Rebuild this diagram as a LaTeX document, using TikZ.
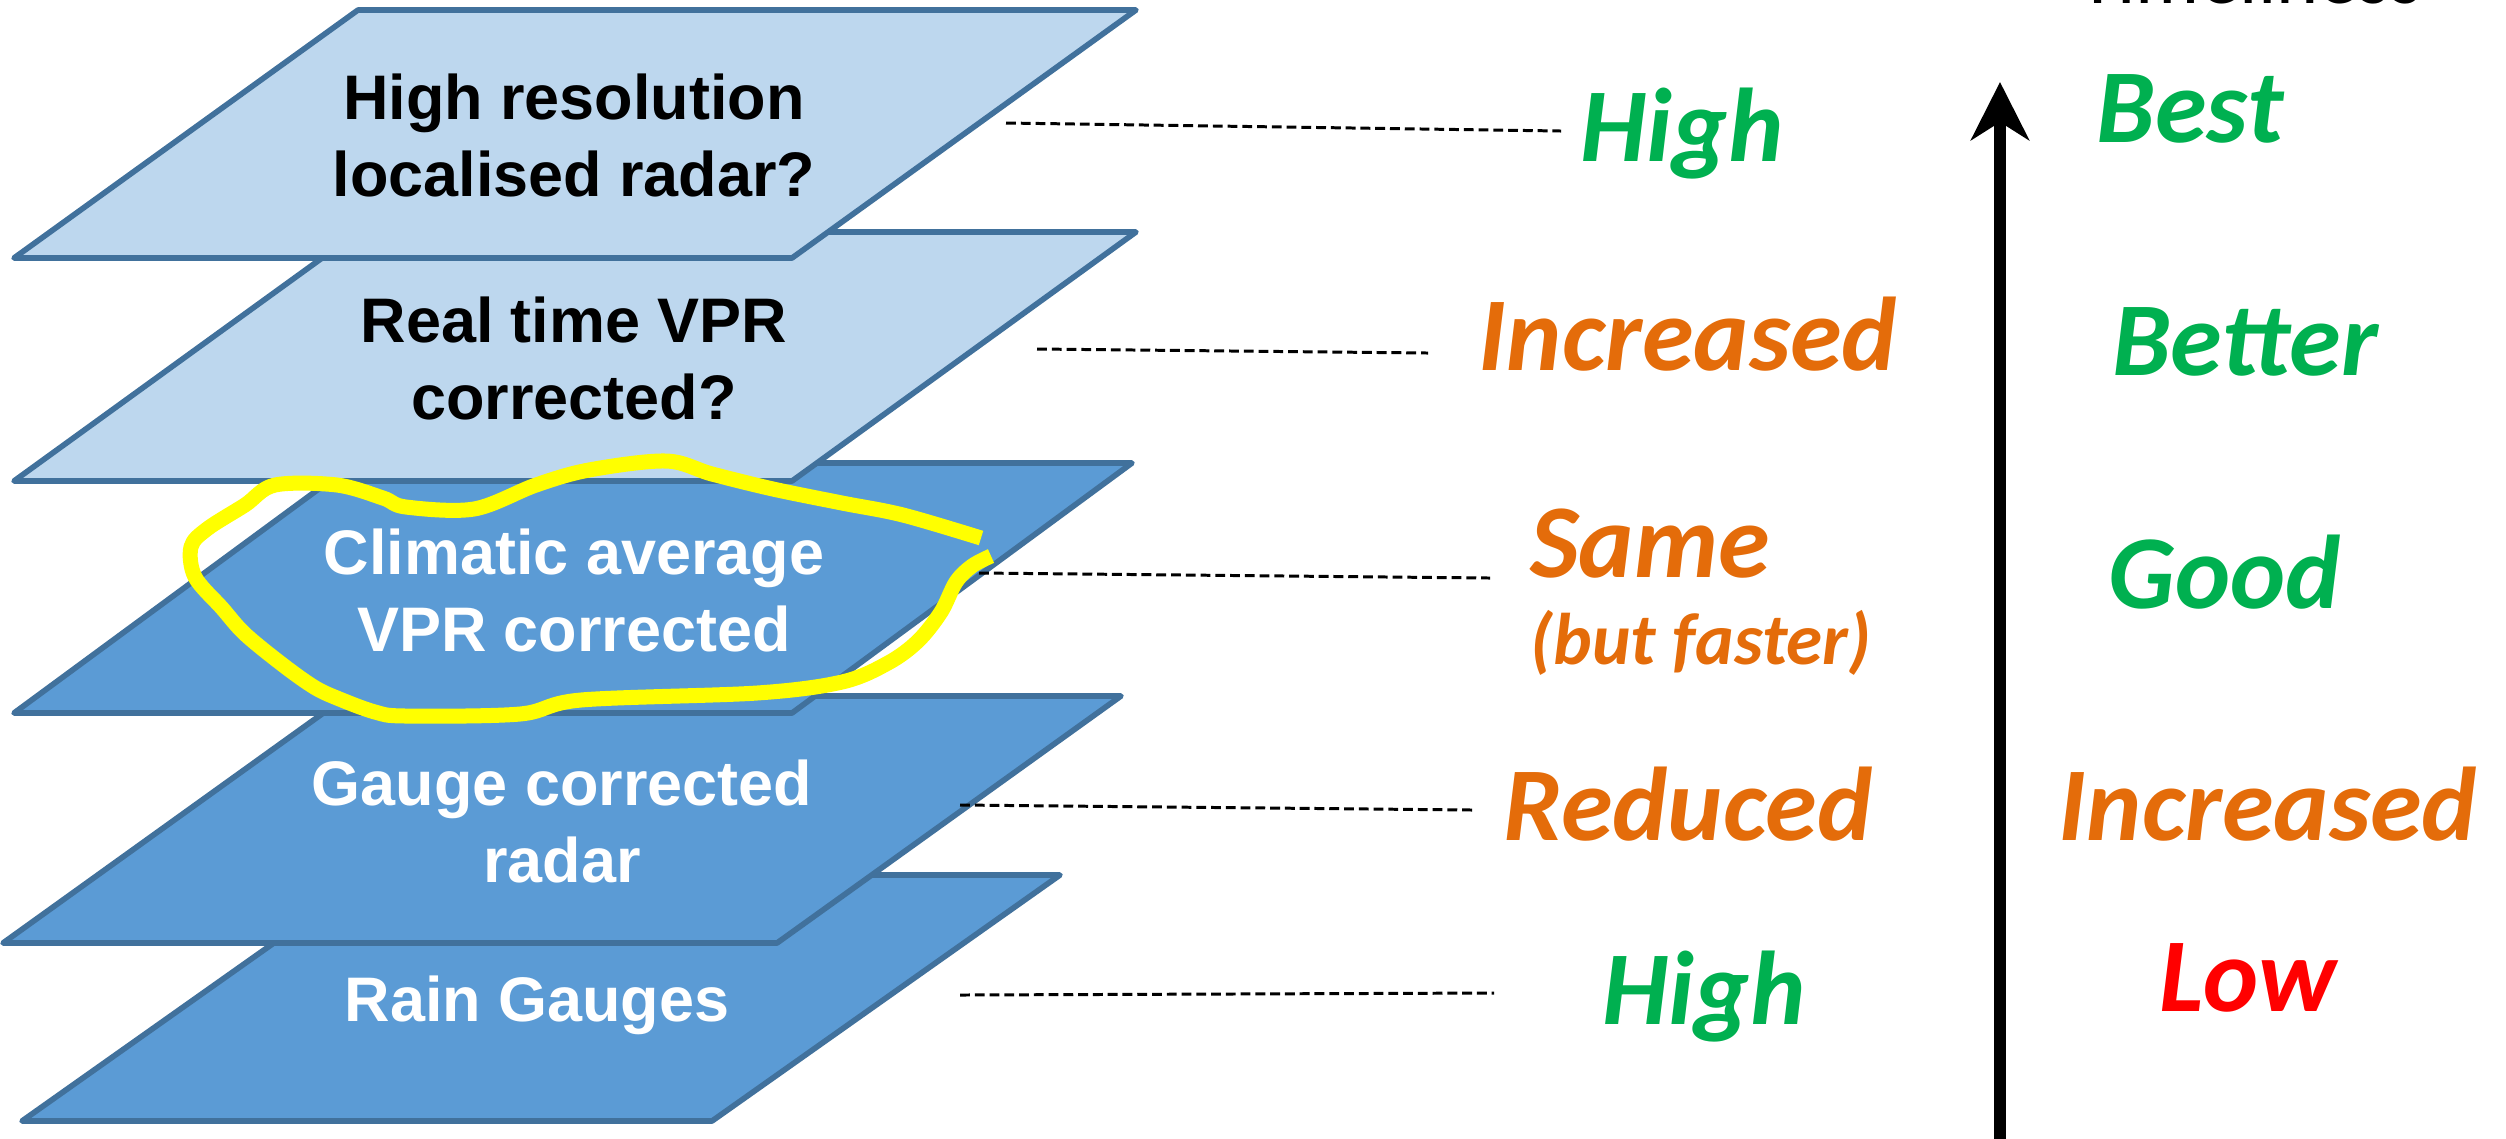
\documentclass[tikz,border=0pt]{standalone}
\usepackage{fontspec}
\setmainfont{Liberation Sans}
\newfontfamily\calib{Carlito}
\usetikzlibrary{arrows.meta}
\usepackage{xcolor}
\definecolor{layerpale}{HTML}{BDD7EE}
\definecolor{layerdeep}{HTML}{5B9BD5}
\definecolor{layeredge}{HTML}{41719C}
\definecolor{goodgreen}{HTML}{00B050}
\definecolor{warnorange}{HTML}{E46C0A}
\definecolor{lowred}{HTML}{FF0000}
\definecolor{markyellow}{HTML}{FFFF00}

\begin{document}
\begin{tikzpicture}[
    x=0.01cm, y=-0.01cm,
    layer/.style={
        draw=layeredge,
        line width=1.6pt,
        line join=round
    },
    pale/.style={layer, fill=layerpale},
    deep/.style={layer, fill=layerdeep},
    caption/.style={
        font=\fontsize{17.9}{21.9}\selectfont\bfseries,
        align=center
    },
    rating/.style={
        font=\calib\fontsize{29.8}{34}\selectfont\bfseries\itshape,
        anchor=base,
        inner sep=0pt
    },
    leader/.style={
        black,
        line width=0.85pt,
        dash pattern=on 2.8pt off 1.4pt
    },
    axis/.style={
        -{Stealth[length=0.58cm, width=0.58cm, inset=0.18cm]},
        line width=0.12cm
    },
    scribble/.style={
        markyellow,
        line width=0.15cm,
        line join=round
    }
]

\useasboundingbox (0,0) rectangle (2506,1138);

% ==========================================
% LAYER STACK (drawn bottom up)
% ==========================================

\draw[deep] (22,1121) -- (712,1121) -- (1060,875) -- (370,875) -- cycle;
\node[caption, text=white] (rain) at (537,1005) {Rain Gauges};

\draw[deep] (3,943) -- (777,943) -- (1121,696) -- (347,696) -- cycle;
\node[caption, text=white] (gauge) at (562,821) {Gauge corrected\\radar};

\draw[deep] (14,713) -- (792,713) -- (1132,463) -- (354,463) -- cycle;
\node[caption, text=white] (clim) at (574,590) {Climatic average\\VPR corrected};

\draw[pale] (14,481) -- (792,481) -- (1136,232) -- (358,232) -- cycle;
\node[caption] (rtvpr) at (574,358) {Real time VPR\\corrected?};

\draw[pale] (14,258) -- (792,258) -- (1136,10) -- (358,10) -- cycle;
\node[caption] (hires) at (574,135) {High resolution\\localised radar?};

% ==========================================
% MIDDLE COLUMN
% ==========================================

\node[rating, text=goodgreen] (midA) at (1682,161) {High};
\node[rating, text=warnorange] (midB) at (1688,370) {Increased};
\node[rating, text=warnorange] (midC) at (1650,577) {Same};
\node[rating, text=warnorange, font=\calib\fontsize{20.8}{24}\selectfont\bfseries\itshape]
    (midCnote) at (1701,664) {(but faster)};
\node[rating, text=warnorange] (midD) at (1688,840) {Reduced};
\node[rating, text=goodgreen] (midE) at (1704,1024) {High};

% dotted leaders from the layers
\coordinate (hiresL) at (1006,123);  \coordinate (hiresR) at (1561,131);
\coordinate (rtvprL) at (1037,349);  \coordinate (rtvprR) at (1428,353);
\coordinate (climL)  at (979,573);   \coordinate (climR)  at (1490,578);
\coordinate (gaugeL) at (960,805);   \coordinate (gaugeR) at (1473,810);
\coordinate (rainL)  at (960,995);   \coordinate (rainR)  at (1494,993);

\draw[leader] (hiresL) -- (hiresR);
\draw[leader] (rtvprL) -- (rtvprR);
\draw[leader] (climL) -- (climR);
\draw[leader] (gaugeL) -- (gaugeR);
\draw[leader] (rainL) -- (rainR);

% ==========================================
% RIGHT COLUMN + ARROW
% ==========================================

\node[font=\calib\fontsize{22.8}{26}\selectfont, anchor=base] (heading) at (2250,3) {Timeliness};

\coordinate (axisfoot) at (2000,1150);
\coordinate (axistip) at (2000,82);
\draw[axis] (axisfoot) -- (axistip);

\node[rating, text=goodgreen] (rightA) at (2190,142) {Best};
\node[rating, text=goodgreen] (rightB) at (2245,375) {Better};
\node[rating, text=goodgreen] (rightC) at (2225,608) {Good};
\node[rating, text=warnorange] (rightD) at (2268,840) {Increased};
\node[rating, text=lowred] (rightE) at (2248,1011) {Low};

% ==========================================
% HIGHLIGHT RING
% ==========================================

\draw[scribble] plot[smooth, tension=0.55] coordinates {
    (981,538) (903,515) (842,503) (773,489) (712,474) (666,461)
    (589,470) (536,485) (474,509) (406,507) (383,498) (337,485)
    (275,485) (245,505) (207,529) (191,547) (195,577) (222,608)
    (245,634) (283,665) (314,687) (337,698) (375,712) (406,716)
    (520,714) (581,700) (757,693) (842,682) (888,663) (918,641)
    (941,612) (956,582) (972,566) (991,556)
};

\end{tikzpicture}
\end{document}
